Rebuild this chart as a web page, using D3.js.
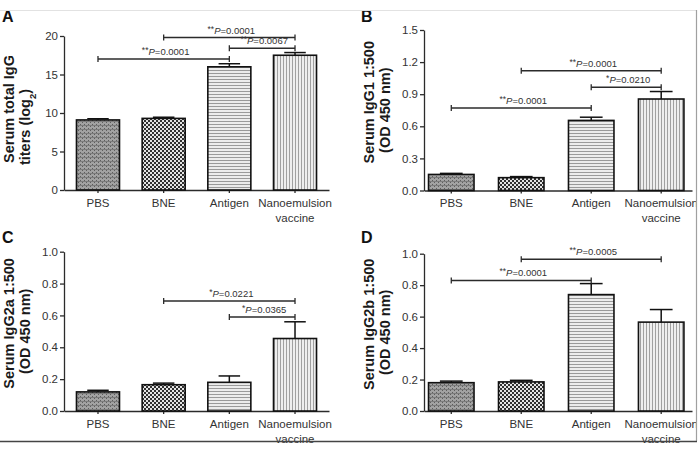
<!DOCTYPE html>
<html lang="en">
<head>
<meta charset="UTF-8">
<title>Serum antibody titers</title>
<script src="https://d3js.org/d3.v7.min.js"></script>
<style>
  html, body { margin: 0; padding: 0; background: white; }
  svg { display: block; font-family: "Liberation Sans", Arial, sans-serif; }
</style>
</head>
<body>
<svg id="chart" width="698" height="452"></svg>
<script>
// groups on the x axis (same for all four panels)
const groups = ["PBS", "BNE", "Antigen", "Nanoemulsion vaccine"];

// A: serum total IgG titers (log2)
const iggMeans = [9.1, 9.3, 16.0, 17.5];
const iggErr = [0.15, 0.15, 0.4, 0.35];
const iggTicks = [0, 5, 10, 15, 20];
const iggBrackets = [
  { from: 1, to: 3, at: 19.8, stars: "**", p: "0.0001" },
  { from: 2, to: 3, at: 18.4, stars: "**", p: "0.0067" },
  { from: 0, to: 2, at: 17.0, stars: "**", p: "0.0001" }
];

// B: IgG1 1:500 (OD 450 nm)
const igg1Means = [0.15, 0.12, 0.655, 0.855];
const igg1Err = [0.01, 0.01, 0.03, 0.07];
const igg1Ticks = [0, 0.3, 0.6, 0.9, 1.2, 1.5];
const igg1Brackets = [
  { from: 1, to: 3, at: 1.12, stars: "**", p: "0.0001" },
  { from: 2, to: 3, at: 0.965, stars: "*", p: "0.0210" },
  { from: 0, to: 2, at: 0.77, stars: "**", p: "0.0001" }
];

// C: IgG2a 1:500 (OD 450 nm)
const igg2aMeans = [0.12, 0.165, 0.18, 0.455];
const igg2aErr = [0.01, 0.01, 0.04, 0.105];
const igg2aTicks = [0, 0.2, 0.4, 0.6, 0.8, 1.0];
const igg2aBrackets = [
  { from: 1, to: 3, at: 0.69, stars: "*", p: "0.0221" },
  { from: 2, to: 3, at: 0.59, stars: "*", p: "0.0365" }
];

// D: IgG2b 1:500 (OD 450 nm)
const igg2bMeans = [0.18, 0.185, 0.74, 0.565];
const igg2bErr = [0.01, 0.01, 0.07, 0.08];
const igg2bTicks = [0, 0.2, 0.4, 0.6, 0.8, 1.0];
const igg2bBrackets = [
  { from: 1, to: 3, at: 0.965, stars: "**", p: "0.0005" },
  { from: 0, to: 2, at: 0.83, stars: "**", p: "0.0001" }
];

const svg = d3.select("#chart");
const ink = "#2b2b2b";

// fill patterns for the four groups
const defs = svg.append("defs");
function pattern(id, w, h) {
  return defs.append("pattern").attr("id", id)
    .attr("patternUnits", "userSpaceOnUse").attr("width", w).attr("height", h);
}
let p = pattern("pbs", 4, 4);
p.append("rect").attr("width", 4).attr("height", 4).attr("fill", "#a2a2a2");
p.append("rect").attr("width", 1).attr("height", 1).attr("fill", "#5e5e5e");
p.append("rect").attr("x", 2).attr("y", 2).attr("width", 1).attr("height", 1).attr("fill", "#5e5e5e");
p.append("rect").attr("y", 1).attr("width", 4).attr("height", 1).attr("fill", "#7c7c7c");
p = pattern("bne", 4, 4);
p.append("rect").attr("width", 4).attr("height", 4).attr("fill", "#e4e4e4");
p.append("rect").attr("width", 2).attr("height", 2).attr("fill", "#303030");
p.append("rect").attr("x", 2).attr("y", 2).attr("width", 2).attr("height", 2).attr("fill", "#303030");
p = pattern("antigen", 4, 3);
p.append("rect").attr("width", 4).attr("height", 3).attr("fill", "#ececec");
p.append("rect").attr("y", 1).attr("width", 4).attr("height", 1).attr("fill", "#9a9a9a");
p = pattern("nano", 3, 4);
p.append("rect").attr("width", 3).attr("height", 4).attr("fill", "#eeeeee");
p.append("rect").attr("x", 1).attr("width", 1).attr("height", 4).attr("fill", "#a0a0a0");
const fills = ["url(#pbs)", "url(#bne)", "url(#antigen)", "url(#nano)"];

function drawPanel(cfg) {
  const g = svg.append("g");

  const x = d3.scaleBand().domain(groups)
    .range([cfg.x0, cfg.x1])
    .paddingInner(cfg.padIn).paddingOuter(cfg.padOut).align(cfg.align);
  const y = d3.scaleLinear().domain([0, cfg.max]).range([cfg.yBottom, cfg.yTop]);

  // panel letter
  g.append("text").attr("x", cfg.letterX).attr("y", cfg.letterY)
    .attr("font-size", 16).attr("font-weight", "bold").attr("fill", "#111")
    .text(cfg.letter);

  // y axis
  const ya = g.append("g").attr("transform", `translate(${cfg.x0},0)`)
    .call(d3.axisLeft(y).tickValues(cfg.ticks).tickFormat(cfg.fmt)
      .tickSize(4).tickSizeOuter(0).tickPadding(2));
  ya.select(".domain").attr("stroke", ink).attr("stroke-width", 1.3);
  ya.selectAll(".tick line").attr("stroke", ink).attr("stroke-width", 1.3);
  ya.selectAll(".tick text").attr("font-size", 11.5).attr("fill", "#333")
    .attr("font-family", "'Liberation Sans', Arial, sans-serif");

  // y title, two rotated lines
  const midY = (cfg.yTop + cfg.yBottom) / 2;
  cfg.title.forEach((line, i) => {
    const t = g.append("text")
      .attr("transform", `translate(${cfg.x0 - 50 + i * 16},${midY + cfg.titleShift[i]}) rotate(-90)`)
      .attr("text-anchor", "middle").attr("font-size", 14.5)
      .attr("font-weight", "bold").attr("fill", "#1a1a1a");
    line.forEach(part => {
      const s = t.append("tspan").text(part.t);
      if (part.sub) s.attr("font-size", 9.5).attr("baseline-shift", "sub");
    });
  });

  // x axis
  const xa = g.append("g").attr("transform", `translate(0,${cfg.yBottom})`)
    .call(d3.axisBottom(x).tickSize(3).tickSizeOuter(0));
  xa.select(".domain").attr("stroke", ink).attr("stroke-width", 1.3);
  xa.selectAll(".tick line").attr("stroke", ink).attr("stroke-width", 1.3);
  xa.selectAll(".tick text").remove();
  xa.selectAll(".tick").each(function(d) {
    const t = d3.select(this).append("text")
      .attr("text-anchor", "middle").attr("fill", "#333")
      .attr("font-size", 11.5);
    d.split(" ").forEach((w, i) => {
      t.append("tspan").attr("x", 0).attr("y", 16.5 + i * 15).text(w);
    });
  });

  // bars
  g.selectAll("rect.bar").data(cfg.means).enter().append("rect")
    .attr("class", "bar")
    .attr("x", (d, i) => x(groups[i]))
    .attr("y", d => y(d))
    .attr("width", x.bandwidth())
    .attr("height", d => cfg.yBottom - y(d))
    .attr("fill", (d, i) => fills[i])
    .attr("stroke", "#111").attr("stroke-width", 1.6);

  // error bars (upper only)
  const cx = i => x(groups[i]) + x.bandwidth() / 2;
  const capW = x.bandwidth() * 0.25;
  cfg.means.forEach((m, i) => {
    g.append("line").attr("x1", cx(i)).attr("x2", cx(i))
      .attr("y1", y(m)).attr("y2", y(m + cfg.errs[i]))
      .attr("stroke", "#111").attr("stroke-width", 1.5);
    g.append("line").attr("x1", cx(i) - capW).attr("x2", cx(i) + capW)
      .attr("y1", y(m + cfg.errs[i])).attr("y2", y(m + cfg.errs[i]))
      .attr("stroke", "#111").attr("stroke-width", 1.5);
  });

  // significance brackets
  cfg.brackets.forEach(b => {
    const yy = y(b.at), xa1 = cx(b.from), xa2 = cx(b.to);
    g.append("line").attr("x1", xa1).attr("x2", xa2).attr("y1", yy).attr("y2", yy)
      .attr("stroke", ink).attr("stroke-width", 1.5);
    [xa1, xa2].forEach(xx => g.append("line").attr("x1", xx).attr("x2", xx)
      .attr("y1", yy - 3).attr("y2", yy + 3).attr("stroke", ink).attr("stroke-width", 1.3));
    const t = g.append("text").attr("x", (xa1 + xa2) / 2 + 2).attr("y", yy - 4)
      .attr("text-anchor", "middle").attr("fill", "#333").attr("font-size", 9.5);
    t.append("tspan").attr("font-size", 8.5).attr("dy", -2).text(b.stars);
    t.append("tspan").attr("font-style", "italic").attr("dy", 2).text("P");
    t.append("tspan").text("=" + b.p);
  });
}

const leftBand = { x0: 64, x1: 329, padIn: 0.345, padOut: 0.19, align: 0.5 };
const rightBand = { x0: 424, x1: 692, padIn: 0.35, padOut: 0.09, align: 0.36 };

drawPanel(Object.assign({}, leftBand, {
  letter: "A", letterX: 2, letterY: 22, yTop: 36, yBottom: 190, max: 20,
  ticks: iggTicks, fmt: d3.format("d"),
  title: [[{ t: "Serum total IgG" }], [{ t: "titers (log" }, { t: "2", sub: true }, { t: ")" }]],
  titleShift: [-4, 14],
  means: iggMeans, errs: iggErr, brackets: iggBrackets
}));
drawPanel(Object.assign({}, rightBand, {
  letter: "B", letterX: 361, letterY: 22, yTop: 30, yBottom: 190.5, max: 1.5,
  ticks: igg1Ticks, fmt: d3.format(".1f"),
  title: [[{ t: "Serum IgG1 1:500" }], [{ t: "(OD 450 nm)" }]],
  titleShift: [-8, 0],
  means: igg1Means, errs: igg1Err, brackets: igg1Brackets
}));
drawPanel(Object.assign({}, leftBand, {
  letter: "C", letterX: 2, letterY: 243, yTop: 251.7, yBottom: 411, max: 1,
  ticks: igg2aTicks, fmt: d3.format(".1f"),
  title: [[{ t: "Serum IgG2a 1:500" }], [{ t: "(OD 450 nm)" }]],
  titleShift: [-8, 0],
  means: igg2aMeans, errs: igg2aErr, brackets: igg2aBrackets
}));
drawPanel(Object.assign({}, rightBand, {
  letter: "D", letterX: 361, letterY: 243, yTop: 253.7, yBottom: 411, max: 1,
  ticks: igg2bTicks, fmt: d3.format(".1f"),
  title: [[{ t: "Serum IgG2b 1:500" }], [{ t: "(OD 450 nm)" }]],
  titleShift: [-8, 0],
  means: igg2bMeans, errs: igg2bErr, brackets: igg2bBrackets
}));

// frame of the scanned figure
svg.append("rect").attr("x", 697).attr("y", 0).attr("width", 1).attr("height", 452).attr("fill", "white");
svg.append("line").attr("x1", 0).attr("x2", 697).attr("y1", 10.5).attr("y2", 10.5)
  .attr("stroke", "#e2e2e2").attr("stroke-width", 1);
svg.append("line").attr("x1", 696.5).attr("x2", 696.5).attr("y1", 10).attr("y2", 441)
  .attr("stroke", "#a0a0a0").attr("stroke-width", 1.2);
svg.append("line").attr("x1", 0).attr("x2", 697).attr("y1", 441.5).attr("y2", 441.5)
  .attr("stroke", "#444").attr("stroke-width", 1.4);
</script>
</body>
</html>
